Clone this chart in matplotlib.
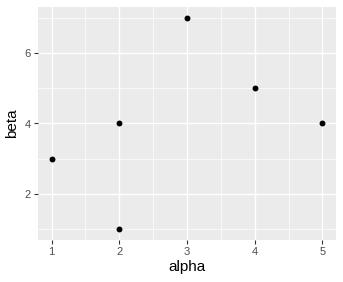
import matplotlib
matplotlib.use("Agg")
import matplotlib.pyplot as plt
import numpy as np

plt.rcParams['font.family'] = ['Liberation Sans', 'DejaVu Sans']

alpha = [1, 2, 2, 3, 4, 5]
beta = [3, 4, 1, 7, 5, 4]
xticks = [1, 2, 3, 4, 5]
yticks = [2, 4, 6]

W, H = 343, 282
fig = plt.figure(figsize=(W/100, H/100), dpi=100)
left, right, top, bottom = 38, 336, 7, 240
ax = fig.add_axes([left/W, 1-bottom/H, (right-left)/W, (bottom-top)/H])
ax.set_facecolor("#EBEBEB")
ax.scatter(alpha, beta, s=18, color="black", zorder=3, linewidths=0)
ax.set_xlim(0.8, 5.2)
ax.set_ylim(0.7, 7.3)
ax.set_xticks(xticks)
ax.set_yticks(yticks)
ax.set_xticks([1.5, 2.5, 3.5, 4.5], minor=True)
ax.set_yticks([1, 3, 5, 7], minor=True)
ax.grid(which="major", color="white", linewidth=1.0)
ax.grid(which="minor", color="white", linewidth=0.5)
ax.set_axisbelow(True)
for s in ax.spines.values():
    s.set_visible(False)
ax.tick_params(which="major", length=3, color="#333333", labelsize=8, labelcolor="#4D4D4D", pad=2)
ax.tick_params(which="minor", length=0)
ax.set_xlabel("alpha", fontsize=11, labelpad=2)
ax.set_ylabel("beta", fontsize=11, labelpad=4)
fig.savefig("out.png", dpi=100)
